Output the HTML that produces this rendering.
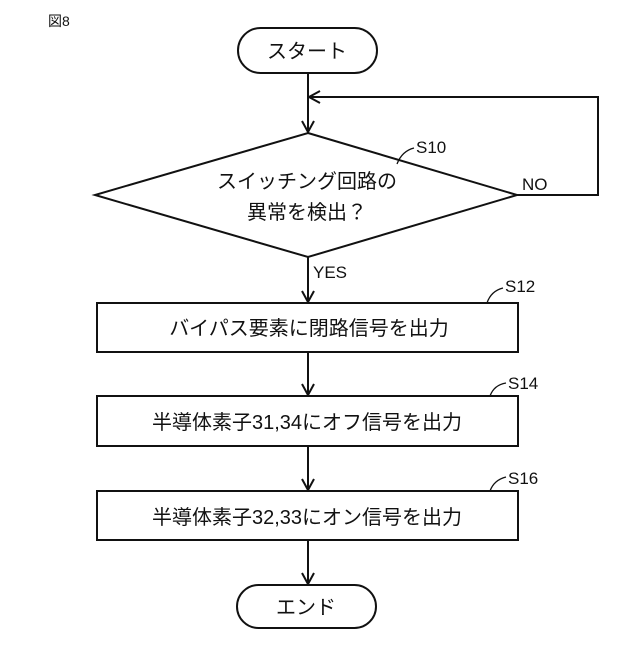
<!DOCTYPE html>
<html><head><meta charset="utf-8"><style>
body{margin:0;background:#fff}
text{font-family:"Liberation Sans","Noto Sans CJK JP",sans-serif;fill:#111}
</style></head><body>
<svg width="640" height="640" viewBox="0 0 640 640" xmlns="http://www.w3.org/2000/svg">
<g stroke="#111" stroke-width="2" fill="none">
<rect x="238" y="28" width="139" height="45" rx="22.5"/>
<rect x="237" y="585" width="139" height="43" rx="21.5"/>
<polygon points="308,133 517,195 308,257 95,195"/>
<rect x="97" y="303" width="421" height="49"/>
<rect x="97" y="396" width="421" height="50"/>
<rect x="97" y="491" width="421" height="49"/>
<line x1="308" y1="73" x2="308" y2="132"/>
<polyline points="517,195 598,195 598,97 309,97"/>
<polyline points="320,91 309,97 320,103"/>
<polyline points="302,121 308,132 314,121"/>
<line x1="308" y1="257" x2="308" y2="302"/>
<polyline points="302,291 308,302 314,291"/>
<line x1="308" y1="352" x2="308" y2="395"/>
<polyline points="302,384 308,395 314,384"/>
<line x1="308" y1="446" x2="308" y2="490"/>
<polyline points="302,479 308,490 314,479"/>
<line x1="308" y1="540" x2="308" y2="584"/>
<polyline points="302,573 308,584 314,573"/>
<path d="M397,164 Q402,151 414,148" stroke-width="1.3"/>
<path d="M487,303 Q491,291 503,288" stroke-width="1.3"/>
<path d="M490,396 Q494,385 506,383" stroke-width="1.3"/>
<path d="M490,491 Q494,480 506,477" stroke-width="1.3"/>
</g>
<text x="48" y="26" font-size="14">図8</text>
<text x="307" y="58" font-size="20" text-anchor="middle">スタート</text>
<text x="306" y="614" font-size="20" text-anchor="middle">エンド</text>
<text x="307" y="188" font-size="20" text-anchor="middle">スイッチング回路の</text>
<text x="307" y="219" font-size="20" text-anchor="middle">異常を検出？</text>
<text x="416" y="153" font-size="17">S10</text>
<text x="522" y="190" font-size="17">NO</text>
<text x="313" y="278" font-size="17">YES</text>
<text x="505" y="292" font-size="17">S12</text>
<text x="508" y="389" font-size="17">S14</text>
<text x="508" y="484" font-size="17">S16</text>
<text x="309" y="335" font-size="20" text-anchor="middle">バイパス要素に閉路信号を出力</text>
<text x="307" y="429" font-size="20" text-anchor="middle">半導体素子31,34にオフ信号を出力</text>
<text x="307" y="524" font-size="20" text-anchor="middle">半導体素子32,33にオン信号を出力</text>
</svg>
</body></html>
